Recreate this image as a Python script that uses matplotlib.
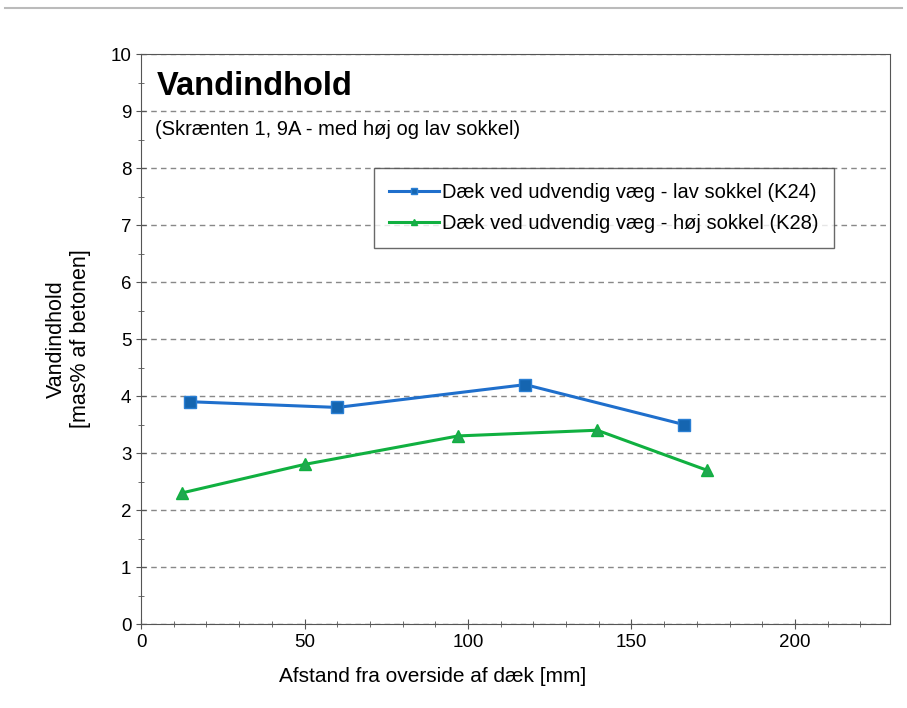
import matplotlib
matplotlib.use("Agg")
import matplotlib.pyplot as plt
from matplotlib.ticker import MultipleLocator
from matplotlib.lines import Line2D

plt.rcParams['font.family'] = ['Liberation Sans', 'DejaVu Sans']

# data
x_lav = [15, 60, 117.5, 166]
y_lav = [3.9, 3.8, 4.2, 3.5]
x_hoj = [12.5, 50, 97, 139.5, 173]
y_hoj = [2.3, 2.8, 3.3, 3.4, 2.7]
label_lav = "Dæk ved udvendig væg - lav sokkel (K24)"
label_hoj = "Dæk ved udvendig væg - høj sokkel (K28)"

fig = plt.figure(figsize=(9.07, 7.08), dpi=100)
ax = fig.add_axes([0.1555, 0.1186, 0.8255, 0.8051])

ax.plot(x_lav, y_lav, color="#1f6fcc", lw=2.2, marker="s", ms=8,
        mfc="#1565b0", mec="#2a7fd4", label=label_lav, zorder=3)
ax.plot(x_hoj, y_hoj, color="#10b040", lw=2.2, marker="^", ms=8,
        mfc="#20a850", mec="#10b040", label=label_hoj, zorder=3)

ax.set_xlim(0, 229)
ax.set_ylim(0, 10)
ax.xaxis.set_major_locator(MultipleLocator(50))
ax.xaxis.set_minor_locator(MultipleLocator(10))
ax.yaxis.set_major_locator(MultipleLocator(1))
ax.yaxis.set_minor_locator(MultipleLocator(0.5))
ax.tick_params(which="both", direction="inout", color="#555555", labelsize=13.5)
ax.tick_params(which="major", length=7)
ax.tick_params(which="minor", length=4)
ax.yaxis.grid(True, which="major", ls=(0, (4, 3)), color="#888888", lw=1)
for s in ax.spines.values():
    s.set_color("#555555")

ax.set_xlabel("Afstand fra overside af dæk [mm]", fontsize=15)
ax.xaxis.set_label_coords(0.39, -0.075)
ax.set_ylabel("Vandindhold\n[mas% af betonen]", fontsize=15.5, labelpad=14)

ax.text(0.021, 0.97, "Vandindhold", transform=ax.transAxes, fontsize=23.5,
        fontweight="bold", va="top")
ax.text(0.019, 0.885, "(Skrænten 1, 9A - med høj og lav sokkel)",
        transform=ax.transAxes, fontsize=14.5, va="top")

leg = ax.legend(loc="upper left", bbox_to_anchor=(0.311, 0.80), fontsize=14.5,
                frameon=True, fancybox=False, edgecolor="#444444",
                handlelength=2.5, handletextpad=0.15, borderpad=0.75,
                labelspacing=0.6, borderaxespad=0, markerscale=0.6)
leg.get_frame().set_linewidth(1.0)

fig.add_artist(Line2D([0.005, 0.995], [0.988, 0.988], color="#bbbbbb", lw=1.5))

fig.savefig("out.png", dpi=100)
